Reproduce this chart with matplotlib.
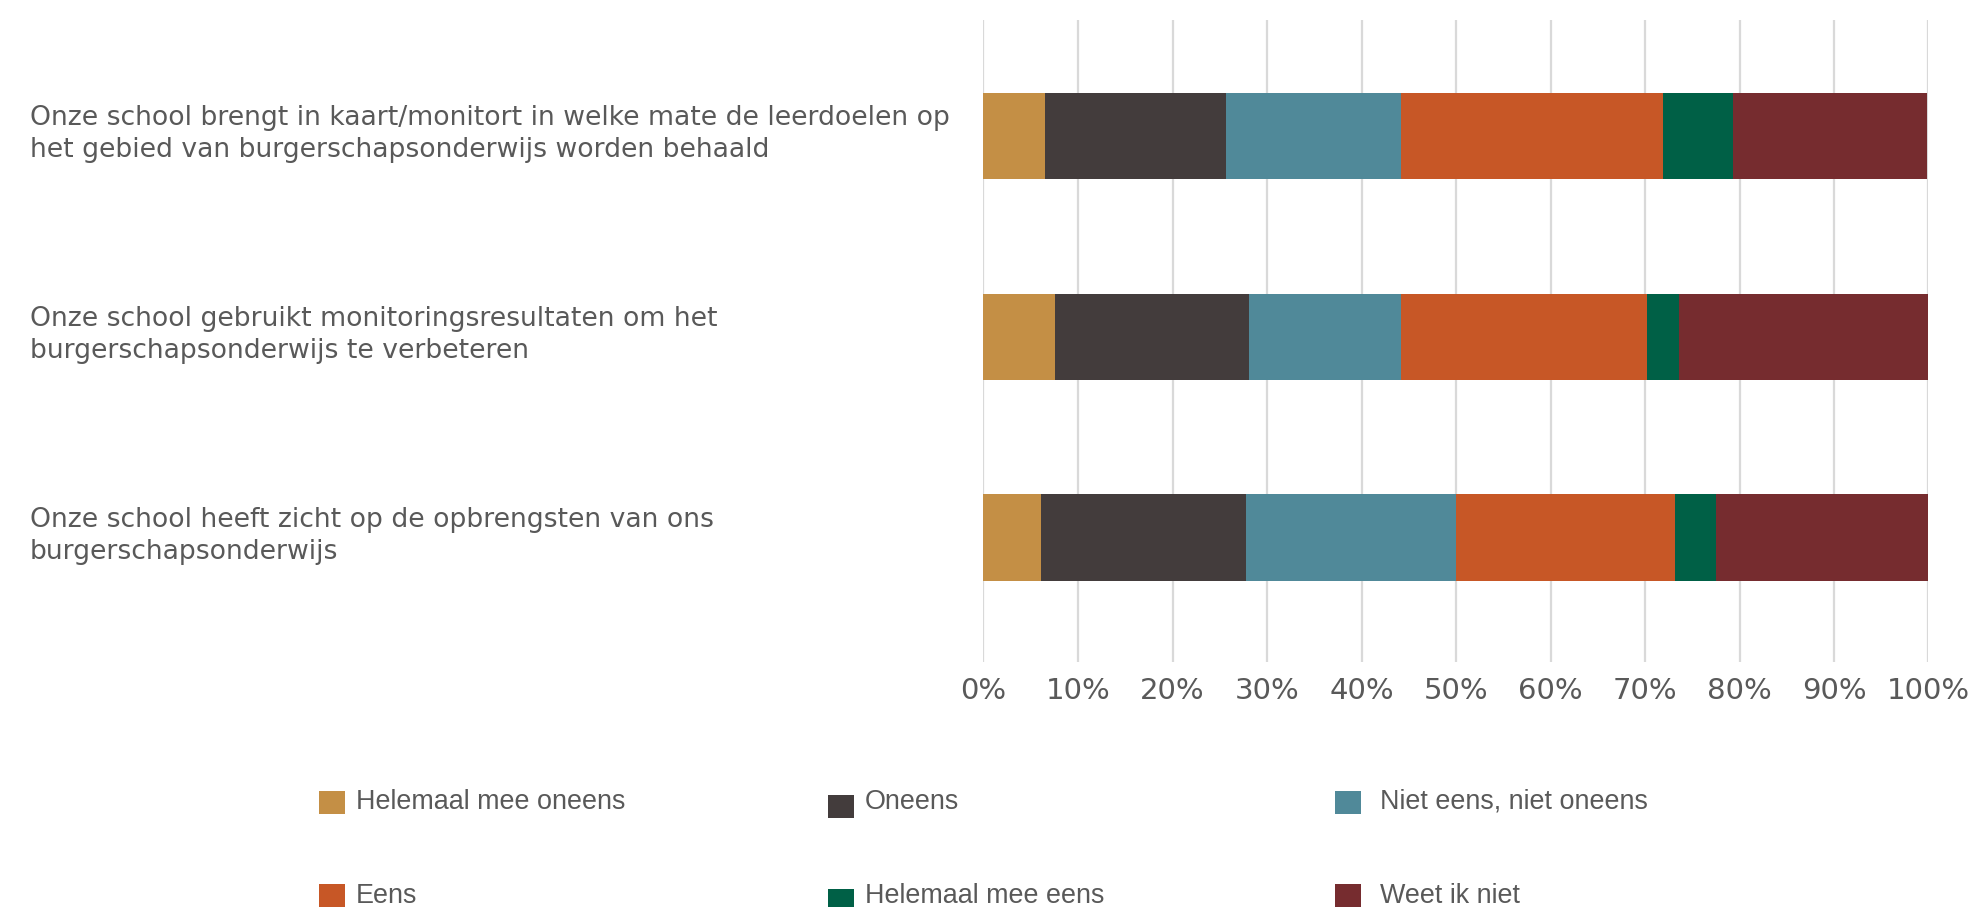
import numpy as np
import matplotlib
matplotlib.use("Agg")
import matplotlib.pyplot as plt
from matplotlib.patches import Rectangle
from matplotlib.transforms import blended_transform_factory

# Survey statements (top to bottom) and answer shares in percent
statements = [
    "Onze school brengt in kaart/monitort in welke mate de leerdoelen op\n"
    "het gebied van burgerschapsonderwijs worden behaald",
    "Onze school gebruikt monitoringsresultaten om het\n"
    "burgerschapsonderwijs te verbeteren",
    "Onze school heeft zicht op de opbrengsten van ons\n"
    "burgerschapsonderwijs",
]
answers = [
    "Helemaal mee oneens", "Oneens", "Niet eens, niet oneens",
    "Eens", "Helemaal mee eens", "Weet ik niet",
]
helemaal_oneens = [6.5, 7.6, 6.1]
oneens          = [19.2, 20.5, 21.7]
neutraal        = [18.5, 16.1, 22.2]
eens            = [27.7, 26.0, 23.2]
helemaal_eens   = [7.4, 3.4, 4.3]
weet_niet       = [20.5, 26.4, 22.5]
series = [helemaal_oneens, oneens, neutraal, eens, helemaal_eens, weet_niet]

colors = ["#C48F45", "#433C3C", "#508999", "#C75726", "#006046", "#762C2F"]
TEXT = "#595959"
GRID = "#D9D9D9"

W, H = 1983, 907
fig = plt.figure(figsize=(W / 100, H / 100), dpi=100)
ax = fig.add_axes([983.5 / W, 1 - 662 / H, 945 / W, 642 / H])

y = np.arange(len(statements))
left = np.zeros(len(statements))
for vals, name, col in zip(series, answers, colors):
    ax.barh(y, vals, left=left, height=0.43, color=col, label=name, zorder=2)
    left += np.array(vals)

ax.set_xlim(0, 100)
ax.set_ylim(2.62, -0.58)
ax.set_xticks(np.arange(0, 101, 10))
ax.set_xticklabels([f"{v}%" for v in range(0, 101, 10)])
ax.tick_params(axis="x", length=0, pad=11, labelsize=21, labelcolor=TEXT)
ax.set_yticks([])
ax.grid(axis="x", color=GRID, linewidth=1.6, zorder=0)
for s in ax.spines.values():
    s.set_visible(False)

# statement labels, left aligned at the figure edge
trans = blended_transform_factory(fig.transFigure, ax.transData)
for yi, txt in zip(y, statements):
    ax.text(30 / W, yi - 0.01, txt, transform=trans, ha="left", va="center",
            fontsize=19.2, color=TEXT, linespacing=1.3)

# legend laid out in two rows of three
col_x = [319, 828, 1335]
text_x = [356, 865, 1380]
row_y = [802, 896]
for i, (name, col) in enumerate(zip(answers, colors)):
    r, c = divmod(i, 3)
    yc = row_y[r] + (4 if c == 1 else 0)
    fig.patches.append(Rectangle((col_x[c] / W, 1 - (yc + 11.5) / H),
                                 26 / W, 23 / H, transform=fig.transFigure,
                                 facecolor=col, edgecolor="none"))
    fig.text(text_x[c] / W, 1 - row_y[r] / H, name, ha="left", va="center",
             fontsize=19.4, color=TEXT, family="Liberation Sans")

fig.savefig("out.png", dpi=100)
